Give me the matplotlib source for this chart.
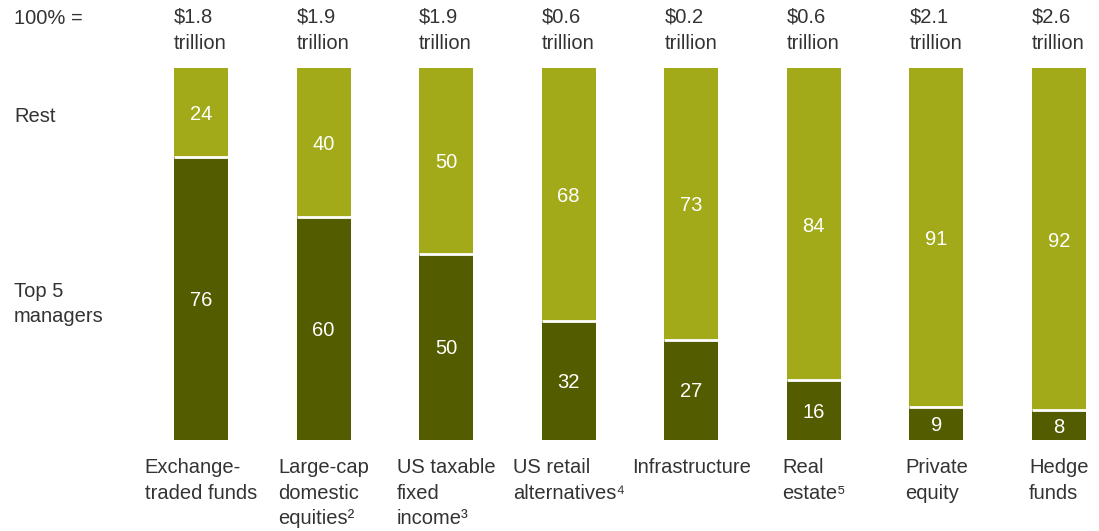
import matplotlib
matplotlib.use("Agg")
import matplotlib.pyplot as plt
import numpy as np

plt.rcParams['font.family'] = ['Liberation Sans', 'DejaVu Sans']

categories = ["Exchange-\ntraded funds",
              "Large-cap\ndomestic\nequities\u00b2",
              "US taxable\nfixed\nincome\u00b3",
              "US retail\nalternatives\u2074",
              "Infrastructure",
              "Real\nestate\u2075",
              "Private\nequity",
              "Hedge\nfunds"]
totals = ["$1.8", "$1.9", "$1.9", "$0.6", "$0.2", "$0.6", "$2.1", "$2.6"]
top5 = [76, 60, 50, 32, 27, 16, 9, 8]
rest = [24, 40, 50, 68, 73, 84, 91, 92]

dark = '#545c00'
light = '#a2aa1a'
txt = '#333333'
fs = 14.5
ls = 1.45

W, H = 1099, 531
fig = plt.figure(figsize=(W / 100, H / 100), dpi=100)
# axes spans full width; bars 68..440 px from top
ax = fig.add_axes([0, (H - 440) / H, 1, 372 / H])
step = 122.57
ax.set_xlim(-201 / step, (W - 201) / step)
ax.set_ylim(0, 100)
ax.axis('off')

x = np.arange(len(categories))
bw = 54 / step
ax.bar(x, top5, width=bw, color=dark, linewidth=0)
ax.bar(x, rest, width=bw, bottom=top5, color=light, linewidth=0)
# white separator between segments
for xi, t in zip(x, top5):
    ax.plot([xi - bw / 2, xi + bw / 2], [t, t], color='white', lw=2, solid_capstyle='butt')

for xi, t, r in zip(x, top5, rest):
    ax.text(xi, t / 2, str(t), ha='center', va='center_baseline', color='white', fontsize=fs)
    ax.text(xi, t + r / 2, str(r), ha='center', va='center_baseline', color='white', fontsize=fs)

# totals above bars, left aligned with the bar
for xi, tot in zip(x, totals):
    px = (201 + xi * step - 27) / W
    fig.text(px, 1 - 8 / H, tot + "\ntrillion", ha='left', va='top', color=txt,
             fontsize=fs, linespacing=ls)

# category labels below
for xi, c in zip(x, categories):
    px = (201 + xi * step) / W
    fig.text(px, 1 - 458 / H, c, ha='center', va='top', multialignment='left',
             color=txt, fontsize=fs, linespacing=ls)

fig.text(14 / W, 1 - 9 / H, "100% =", ha='left', va='top', color=txt, fontsize=fs)
fig.text(14 / W, 1 - 117 / H, "Rest", ha='left', va='center', color=txt, fontsize=fs)
fig.text(14 / W, 1 - 304 / H, "Top 5\nmanagers", ha='left', va='center', color=txt,
         fontsize=fs, linespacing=ls)

fig.savefig('out.png', dpi=100)
